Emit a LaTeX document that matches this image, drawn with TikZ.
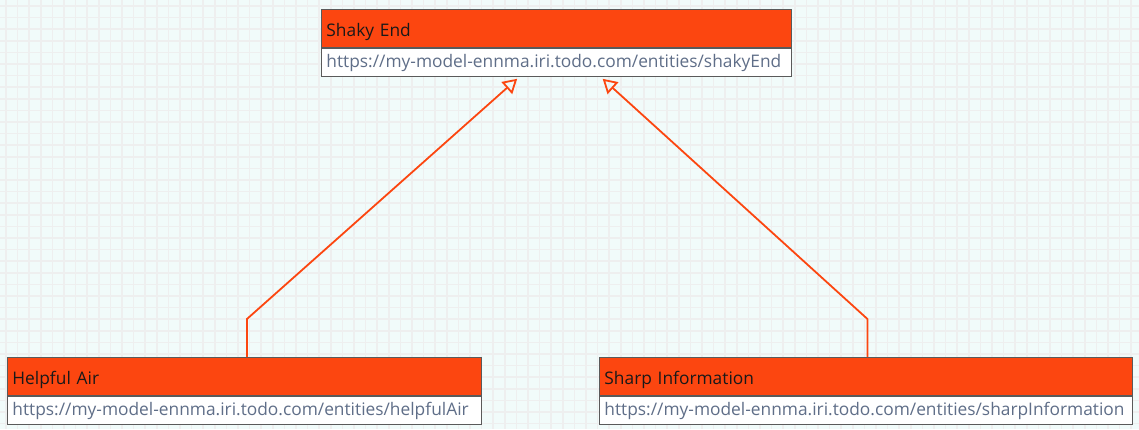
\documentclass[tikz,border=0pt]{standalone}
\usepackage{fontspec}
\setmainfont{Open Sans}
\usetikzlibrary{arrows.meta}
\definecolor{bgc}{HTML}{F1FBFA}
\definecolor{gridc}{HTML}{EEEFEF}
\definecolor{hdr}{HTML}{FC4610}
\definecolor{urlc}{HTML}{5F6E88}
\definecolor{bordc}{HTML}{5A5A5A}
\tikzset{
  hdrbox/.style={draw=bordc, line width=0.9bp, fill=hdr, anchor=north west, minimum height=38bp,
    inner xsep=5bp, inner ysep=0pt, align=left, font=\fontsize{17.4}{20}\selectfont, text=black!90,
    text height=20bp, text depth=4bp},
  urlbox/.style={draw=bordc, line width=0.9bp, fill=white, anchor=north west, minimum height=28bp,
    inner xsep=5bp, inner ysep=0pt, align=left, font=\fontsize{17.4}{20}\selectfont, text=urlc,
    text height=15bp, text depth=4bp},
  conn/.style={draw=hdr, line width=1.8bp, -{Triangle[open, length=14bp, width=16bp, line width=1.8bp]}, shorten >=3bp}
}
\begin{document}
\begin{tikzpicture}[x=1bp, y=-1bp]
\useasboundingbox (0,0) rectangle (1139,429);
\fill[bgc] (0,0) rectangle (1139,429);
\foreach \i in {0,...,98} {
  \draw[gridc, line width=1.5bp] (6+11.6*\i,0) -- (6+11.6*\i,429);
}
\foreach \j in {0,...,37} {
  \draw[gridc, line width=1.5bp] (0,6+11.6*\j) -- (1139,6+11.6*\j);
}
% top entity
\node[hdrbox, text width=460bp] (se) at (321,9) {Shaky End};
\node[urlbox, text width=460bp] (seu) at (se.south west) {https://my-model-ennma.iri.todo.com/entities/shakyEnd};
% bottom left
\node[hdrbox, text width=464bp] (ha) at (7,357) {Helpful Air};
\node[urlbox, text width=464bp] (hau) at (ha.south west) {https://my-model-ennma.iri.todo.com/entities/helpfulAir};
% bottom right
\node[hdrbox, text width=523bp] (si) at (599,357) {Sharp Information};
\node[urlbox, text width=523bp] (siu) at (si.south west) {https://my-model-ennma.iri.todo.com/entities/sharpInformation};
% connectors
\draw[conn] ([xshift=2.5bp]ha.north) -- ++(0,-38) -- ([xshift=-37bp]seu.south);
\draw[conn] ([xshift=1.5bp]si.north) -- ++(0,-38) -- ([xshift=44bp]seu.south);
\end{tikzpicture}
\end{document}
